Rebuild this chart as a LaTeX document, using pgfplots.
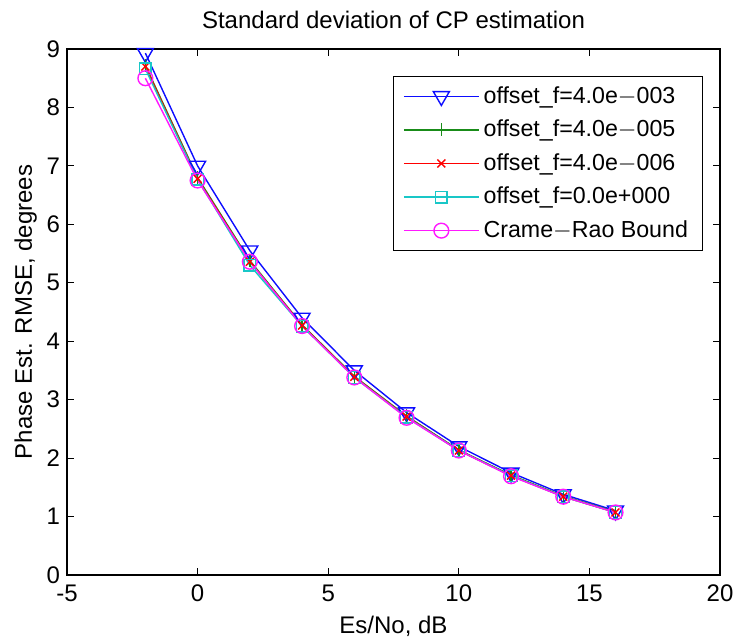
\documentclass[border=0pt]{standalone}
\usepackage{pgfplots}
\pgfplotsset{compat=1.18}
\usepackage{fontspec}
\setmainfont{Liberation Sans}
\definecolor{mblue}{rgb}{0.05,0.05,1}
\definecolor{mgreen}{rgb}{0.1,0.55,0.1}
\definecolor{mred}{rgb}{1,0,0}
\definecolor{mcyan}{rgb}{0.1,0.78,0.78}
\definecolor{mmag}{rgb}{1,0.1,1}
\begin{document}
\begin{tikzpicture}
\begin{axis}[
  scale only axis,
  width=326.5pt, height=263pt,
  xmin=-5, xmax=20, ymin=0, ymax=9,
  xtick={-5,0,...,20}, ytick={0,1,...,9},
  tick align=inside,
  major tick length=3.5pt,
  /pgf/number format/assume math mode=true,
  tick label style={font=\fontsize{12}{14}\selectfont},
  xticklabel style={yshift=-1.5pt, inner xsep=0pt},
  title style={font=\fontsize{12}{14}\selectfont, at={(axis description cs:0.5,1.0171)}, anchor=base, inner sep=0pt},
  title={Standard deviation of CP estimation},
  xlabel={Es/No, dB},
  ylabel={Phase Est. RMSE, degrees},
  xlabel style={font=\fontsize{12}{14}\selectfont, at={(axis description cs:0.5,-0.1103)}, anchor=base, inner sep=0pt},
  ylabel style={font=\fontsize{12}{14}\selectfont, at={(axis description cs:-0.0536,0.5)}, anchor=base, inner sep=0pt},
  axis line style={line width=0.6pt},
  every tick/.style={black, line width=0.5pt},
  legend style={at={(axis description cs:0.973,0.9487)}, anchor=north east,
    font=\fontsize{11.6}{14}\selectfont,
    row sep=2.9pt, inner xsep=5pt, inner ysep=3pt},
  legend cell align=left,
  legend image code/.code={
    \draw[mark repeat=2,mark phase=2,#1] plot coordinates {(0cm,0cm) (0.66cm,0cm) (1.32cm,0cm)};},
]
\addplot[color=mblue, line width=0.7pt, mark=triangle, mark size=4.6pt, mark options={rotate=180, solid}] coordinates {
(-2,8.93) (0,7.0) (2,5.55) (4,4.4) (6,3.5) (8,2.78) (10,2.2) (12,1.75) (14,1.38) (16,1.1)};
\addlegendentry{offset\_f=4.0e$-$003}
\addplot[color=mgreen, line width=0.7pt, mark=|, mark size=3.3pt] coordinates {
(-2,8.72) (0,6.8) (2,5.38) (4,4.28) (6,3.4) (8,2.72) (10,2.14) (12,1.71) (14,1.35) (16,1.08)};
\addlegendentry{offset\_f=4.0e$-$005}
\addplot[color=mred, line width=0.7pt, mark=x, mark size=2.8pt] coordinates {
(-2,8.7) (0,6.78) (2,5.36) (4,4.27) (6,3.39) (8,2.71) (10,2.13) (12,1.7) (14,1.34) (16,1.07)};
\addlegendentry{offset\_f=4.0e$-$006}
\addplot[color=mcyan, line width=0.7pt, mark=square, mark size=2.9pt] coordinates {
(-2,8.66) (0,6.77) (2,5.3) (4,4.26) (6,3.38) (8,2.7) (10,2.13) (12,1.7) (14,1.34) (16,1.07)};
\addlegendentry{offset\_f=0.0e+000}
\addplot[color=mmag, line width=0.7pt, mark=o, mark size=3.7pt] coordinates {
(-2,8.5) (0,6.75) (2,5.36) (4,4.26) (6,3.38) (8,2.69) (10,2.13) (12,1.69) (14,1.34) (16,1.07)};
\addlegendentry{Crame$-$Rao Bound}
\end{axis}
\path[use as bounding box] ([xshift=-33.5pt,yshift=-31pt]current axis.south west) rectangle ([xshift=7pt,yshift=24.5pt]current axis.north east);
\end{tikzpicture}
\end{document}
